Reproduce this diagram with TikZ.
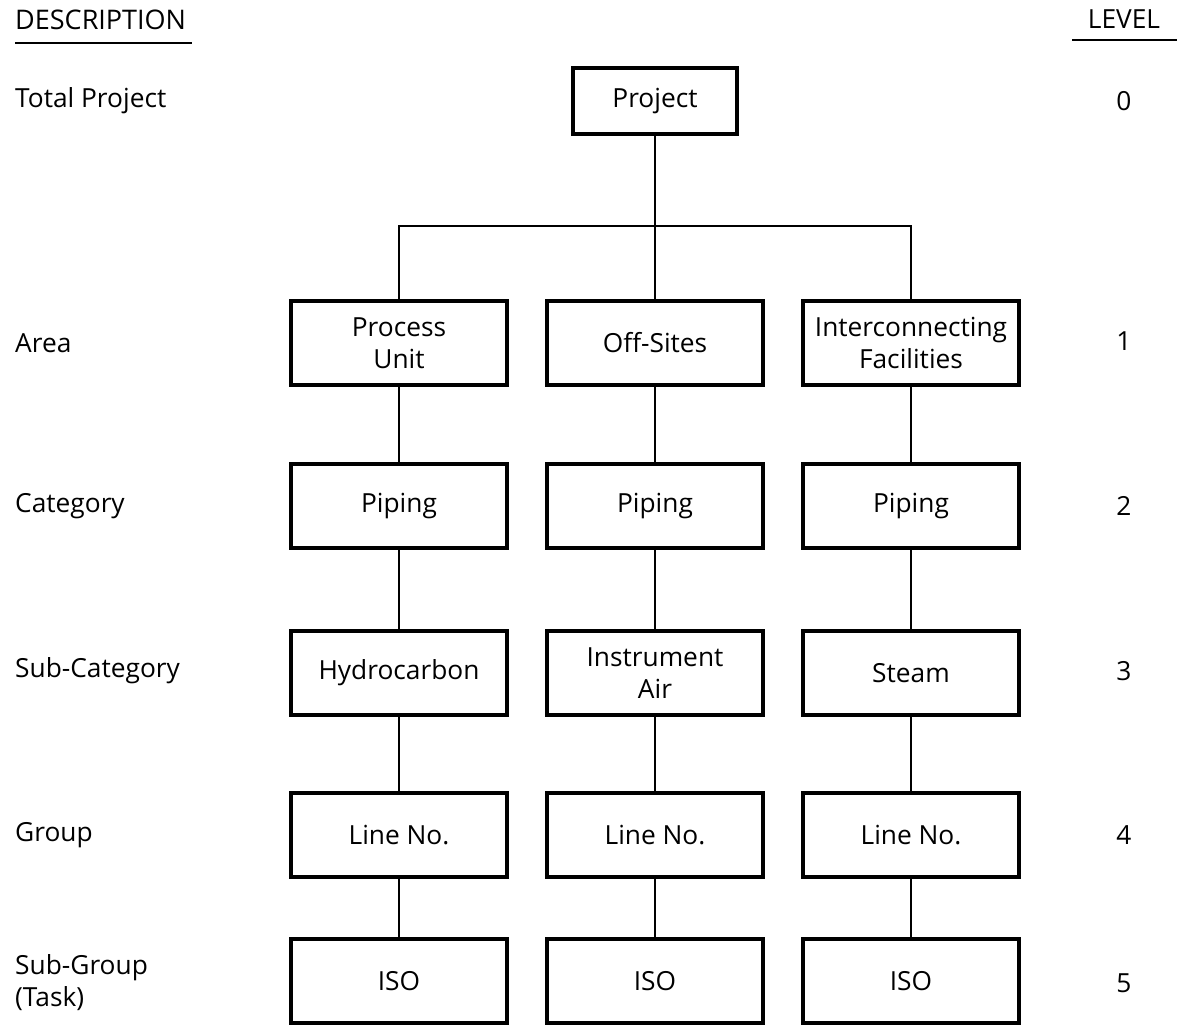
\documentclass[tikz,border=0pt]{standalone}
\usepackage{fontspec}
\setmainfont{Open Sans}
\begin{document}
\begin{tikzpicture}[x=1pt,y=-1pt,
  every node/.style={font=\fontsize{26.3}{32}\selectfont, inner sep=0pt},
  box/.style={draw, line width=3.2pt, minimum width=216pt, minimum height=84pt, align=center},
  conn/.style={line width=2.6pt},
  lbl/.style={anchor=west, align=left},
  lvl/.style={anchor=center}]
\useasboundingbox (0,0) rectangle (1177,1025);
% headings
\node[lbl, anchor=base west, font=\fontsize{27}{32}\selectfont] (hdesc) at (15,30) {DESCRIPTION};
\draw[line width=2.4pt] (15,43) -- (192,43);
\node[anchor=base] (hlev) at (1124,29) {LEVEL};
\draw[line width=2.4pt] (1072,40) -- (1177,40);
% boxes
\node[box, minimum width=164pt, minimum height=66pt] (proj) at (655,101) {Project};
\node[box] (pu) at (399,343) {Process\\Unit};
\node[box] (os) at (655,343) {Off-Sites};
\node[box] (ic) at (911,343) {Interconnecting\\Facilities};
\node[box] (p1) at (399,506) {Piping};
\node[box] (p2) at (655,506) {Piping};
\node[box] (p3) at (911,506) {Piping};
\node[box] (s1) at (399,673) {Hydrocarbon};
\node[box] (s2) at (655,673) {Instrument\\Air};
\node[box] (s3) at (911,673) {Steam};
\node[box] (g1) at (399,835) {Line No.};
\node[box] (g2) at (655,835) {Line No.};
\node[box] (g3) at (911,835) {Line No.};
\node[box] (t1) at (399,981) {ISO};
\node[box] (t2) at (655,981) {ISO};
\node[box] (t3) at (911,981) {ISO};
% connectors
\coordinate (bar) at (655,226);
\draw[conn] (proj.south) -- (bar);
\draw[conn] (pu.north) |- (bar);
\draw[conn] (ic.north) |- (bar);
\draw[conn] (bar) -- (os.north);
\foreach \c in {1,2,3}{
  \draw[conn] (p\c.south) -- (s\c.north);
  \draw[conn] (s\c.south) -- (g\c.north);
  \draw[conn] (g\c.south) -- (t\c.north);
}
\draw[conn] (pu.south) -- (p1.north);
\draw[conn] (os.south) -- (p2.north);
\draw[conn] (ic.south) -- (p3.north);
% descriptions
\node[lbl] (d0) at (15,101) {Total Project};
\node[lbl] (d1) at (15,343) {Area};
\node[lbl] (d2) at (15,506) {Category};
\node[lbl] (d3) at (15,671) {Sub-Category};
\node[lbl] (d4) at (15,835) {Group};
\node[lbl] (d5) at (15,983) {Sub-Group\\(Task)};
% levels
\node[lvl] (l0) at (1124,101) {0};
\node[lvl] (l1) at (1124,341) {1};
\node[lvl] (l2) at (1124,506) {2};
\node[lvl] (l3) at (1124,671) {3};
\node[lvl] (l4) at (1124,835) {4};
\node[lvl] (l5) at (1124,983) {5};
\end{tikzpicture}
\end{document}
